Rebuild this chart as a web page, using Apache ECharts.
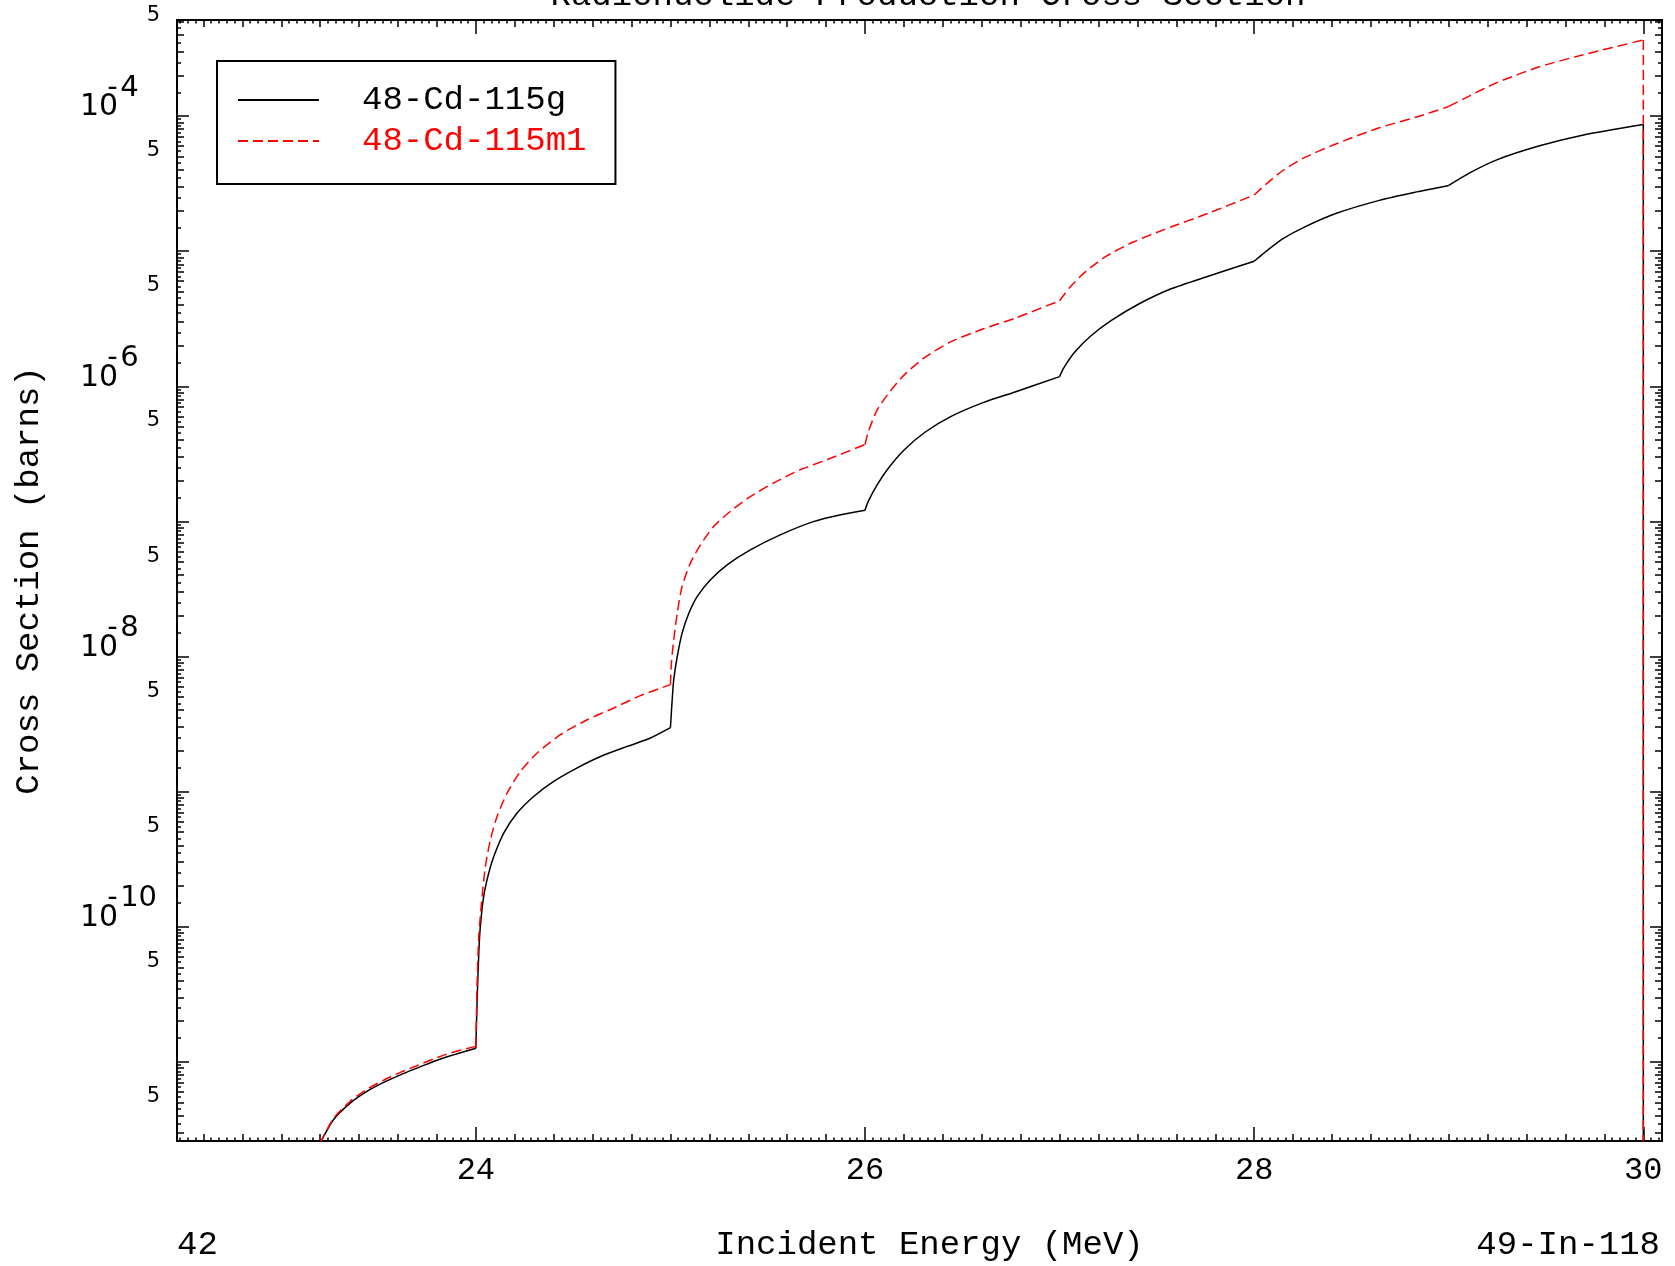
<!DOCTYPE html>
<html>
<head>
<meta charset="utf-8">
<script src="https://cdn.jsdelivr.net/npm/echarts@6/dist/echarts.min.js"></script>
<style>
html,body{margin:0;padding:0;background:#fff;}
#chart{width:1675px;height:1266px;}
</style>
</head>
<body>
<div id="chart"></div>
<script>
// ---- data ----
const seriesNames = ['48-Cd-115g', '48-Cd-115m1'];

const energyG = [23.20, 23.268, 23.354, 23.44, 23.526, 23.612, 23.697, 23.783, 23.869, 24.0,
  24.006, 24.015, 24.023, 24.04, 24.066, 24.092, 24.143, 24.212, 24.297, 24.40, 24.521, 24.641, 24.778, 24.897, 25.0,
  25.009, 25.017, 25.035, 25.06, 25.095, 25.138, 25.207, 25.293, 25.413, 25.567, 25.738, 25.876, 26.0,
  26.016, 26.06, 26.115, 26.198, 26.308, 26.445, 26.61, 26.775, 27.0,
  27.02, 27.077, 27.16, 27.27, 27.407, 27.57, 27.764, 28.0,
  28.066, 28.148, 28.258, 28.423, 28.643, 28.835, 29.0,
  29.11, 29.247, 29.467, 29.687, 30.0, 30.0];
const sigmaG = [2.5e-12, 3.72e-12, 4.94e-12, 6.03e-12, 7.03e-12, 8.0e-12, 8.97e-12, 1.005e-11, 1.107e-11, 1.26e-11,
  2.72e-11, 6.38e-11, 1.005e-10, 1.67e-10, 2.49e-10, 3.31e-10, 4.93e-10, 6.93e-10, 9.2e-10, 1.19e-9, 1.5e-9, 1.82e-9, 2.16e-9, 2.49e-9, 2.97e-9,
  4.8e-9, 6.75e-9, 1.0e-8, 1.49e-8, 2.1e-8, 2.79e-8, 3.71e-8, 4.79e-8, 6.18e-8, 7.98e-8, 1.0e-7, 1.12e-7, 1.21e-7,
  1.4e-7, 1.84e-7, 2.42e-7, 3.35e-7, 4.57e-7, 6.01e-7, 7.6e-7, 9.12e-7, 1.18e-6,
  1.36e-6, 1.79e-6, 2.36e-6, 3.1e-6, 4.07e-6, 5.25e-6, 6.53e-6, 8.43e-6,
  1.01e-5, 1.24e-5, 1.51e-5, 1.91e-5, 2.38e-5, 2.75e-5, 3.07e-5,
  3.82e-5, 4.75e-5, 6.03e-5, 7.23e-5, 8.67e-5, 1e-20];

const energyM = [23.20, 23.268, 23.354, 23.44, 23.526, 23.612, 23.697, 23.783, 23.869, 24.0,
  24.006, 24.015, 24.032, 24.049, 24.075, 24.109, 24.161, 24.229, 24.315, 24.435, 24.572, 24.709, 24.846, 25.0,
  25.005, 25.017, 25.035, 25.06, 25.103, 25.155, 25.223, 25.309, 25.412, 25.532, 25.669, 25.807, 26.0,
  26.016, 26.06, 26.115, 26.198, 26.308, 26.445, 26.61, 26.775, 27.0,
  27.05, 27.132, 27.242, 27.379, 27.544, 27.764, 28.0,
  28.066, 28.148, 28.258, 28.423, 28.643, 28.835, 29.0,
  29.11, 29.247, 29.467, 29.687, 30.0, 30.0];
const sigmaM = [2.5e-12, 3.8e-12, 5.1e-12, 6.25e-12, 7.3e-12, 8.35e-12, 9.35e-12, 1.05e-11, 1.16e-11, 1.3e-11,
  3.61e-11, 8.47e-11, 1.67e-10, 2.79e-10, 4.41e-10, 6.55e-10, 9.77e-10, 1.41e-9, 1.93e-9, 2.64e-9, 3.4e-9, 4.16e-9, 5.13e-9, 6.19e-9,
  8.95e-9, 1.33e-8, 2.1e-8, 3.31e-8, 4.93e-8, 6.73e-8, 9.2e-8, 1.19e-7, 1.53e-7, 1.93e-7, 2.42e-7, 2.87e-7, 3.71e-7,
  4.57e-7, 6.58e-7, 8.65e-7, 1.2e-6, 1.64e-6, 2.15e-6, 2.67e-6, 3.21e-6, 4.3e-6,
  5.35e-6, 7.03e-6, 9.23e-6, 1.17e-5, 1.46e-5, 1.91e-5, 2.61e-5,
  3.18e-5, 3.96e-5, 4.93e-5, 6.25e-5, 8.2e-5, 9.86e-5, 1.18e-4,
  1.42e-4, 1.77e-4, 2.32e-4, 2.84e-4, 3.66e-4, 1e-20];

const xTickLabels = [24, 26, 28, 30];
const yDecadeLabels = [1e-10, 1e-8, 1e-6, 1e-4];
const yDecadeTicks = [1e-11, 1e-10, 1e-9, 1e-8, 1e-7, 1e-6, 1e-5, 1e-4];
const yFiveLabels = [5e-12, 5e-11, 5e-10, 5e-9, 5e-8, 5e-7, 5e-6, 5e-5, 5e-4];
const titleText = 'Radionuclide Production Cross Section';
const xTitle = 'Incident Energy (MeV)';
const yTitle = 'Cross Section (barns)';
const cornerLeft = '42';
const cornerRight = '49-In-118';

const X_MIN = 22.464, X_MAX = 30.096;
const Y_MIN = 2.59e-12, Y_MAX = 5.15e-4;

// ---- tick position lists (axis decoration) ----
const xMediumTicks = [], xSmallTicks = [];
for (let k = Math.ceil(X_MIN * 25); k <= Math.floor(X_MAX * 25); k++) {
  if (k % 50 === 0) continue;
  if (k % 5 === 0) xMediumTicks.push(k / 25); else xSmallTicks.push(k / 25);
}
const yMediumTicks = [], ySmallTicks = [];
for (let n = -12; n <= -4; n++) {
  for (let h = 3; h <= 19; h++) {
    const v = (h / 2) * Math.pow(10, n);
    if (v <= Y_MIN || v >= Y_MAX) continue;
    if (h % 2 === 0) yMediumTicks.push(v); else ySmallTicks.push(v);
  }
}

const MONO = 'Liberation Mono';
const SANS = 'DejaVu Sans';

function xAxisDef(pos, ticks, len, label) {
  return {
    type: 'value', position: pos, min: X_MIN, max: X_MAX, gridIndex: 0,
    axisLine: { show: true, onZero: false, lineStyle: { color: '#000', width: 2 } },
    axisTick: { show: true, inside: true, length: len, customValues: ticks, lineStyle: { color: '#000', width: 1.5 } },
    axisLabel: label || { show: false },
    splitLine: { show: false }
  };
}
function yAxisDef(pos, ticks, len, label) {
  return {
    type: 'log', logBase: 10, position: pos, min: Y_MIN, max: Y_MAX, gridIndex: 0,
    axisLine: { show: true, onZero: false, lineStyle: { color: '#000', width: 2 } },
    axisTick: { show: true, inside: true, length: len, customValues: ticks, lineStyle: { color: '#000', width: 1.5 } },
    axisLabel: label || { show: false },
    splitLine: { show: false },
    minorTick: { show: false }
  };
}

const xMain = xAxisDef('bottom', xTickLabels, 14, {
  show: true, customValues: xTickLabels, margin: 14,
  fontFamily: MONO, fontSize: 32, color: '#000',
  formatter: v => String(v)
});
xMain.name = xTitle;
xMain.nameLocation = 'middle';
xMain.nameGap = 104;
xMain.nameTextStyle = { fontFamily: MONO, fontSize: 34, color: '#000', verticalAlign: 'middle', padding: [0, 0, 0, 20] };

const yMain = yAxisDef('left', yDecadeTicks, 12, {
  show: true, customValues: yDecadeLabels, margin: 97, align: 'left', verticalAlign: 'middle',
  padding: [0, 0, 16, 0],
  formatter: v => '{b|10}{m|-}{s|' + (-Math.round(Math.log10(v))) + '}',
  rich: {
    b: { fontFamily: SANS, fontSize: 30, color: '#000', verticalAlign: 'bottom', lineHeight: 29 },
    m: { fontFamily: SANS, fontSize: 29, color: '#000', verticalAlign: 'bottom', lineHeight: 29, padding: [0, 0, 20, -11], width: 13 },
    s: { fontFamily: SANS, fontSize: 29, color: '#000', verticalAlign: 'bottom', lineHeight: 29, padding: [0, 0, 20, 0] }
  }
});
yMain.name = yTitle;
yMain.nameLocation = 'middle';
yMain.nameGap = 148;
yMain.nameRotate = 90;
yMain.nameTextStyle = { fontFamily: MONO, fontSize: 34, color: '#000', verticalAlign: 'middle' };

// split a curve at integer-energy knots so each piece is smoothed on its own
function pieces(E, S) {
  const out = [];
  let cur = [];
  for (let i = 0; i < E.length; i++) {
    cur.push([E[i], S[i]]);
    if (i > 0 && Number.isInteger(E[i])) {
      if (cur.length > 1) out.push(cur);
      cur = [[E[i], S[i]]];
    }
  }
  if (cur.length > 1) out.push(cur);
  return out;
}

const series = [];
pieces(energyG, sigmaG).forEach(p => series.push({
  name: seriesNames[0], type: 'line', xAxisIndex: 0, yAxisIndex: 0, data: p,
  symbol: 'none', showSymbol: false, clip: true, smooth: 0.25,
  lineStyle: { color: '#000', width: 1.5 }, itemStyle: { color: '#000' }, z: 2
}));
pieces(energyM, sigmaM).forEach(p => series.push({
  name: seriesNames[1], type: 'line', xAxisIndex: 0, yAxisIndex: 0, data: p,
  symbol: 'none', showSymbol: false, clip: true, smooth: 0.25,
  lineStyle: { color: '#ff0000', width: 1.5, type: [10, 5] }, itemStyle: { color: '#ff0000' }, z: 3
}));

const option = {
  animation: false,
  backgroundColor: '#fff',
  grid: { left: 177, top: 20, width: 1485, height: 1121, outerBoundsMode: 'none', containLabel: false },
  legend: {
    orient: 'vertical', left: 217, top: 61,
    padding: [22, 29, 26, 20],
    itemWidth: 81, itemHeight: 30, itemGap: 7,
    borderColor: '#000', borderWidth: 2, borderRadius: 0,
    backgroundColor: '#fff',
    itemStyle: { opacity: 0 },
    textStyle: { fontFamily: MONO, fontSize: 34, color: '#000', padding: [0, 0, 0, 38] },
    data: [
      { name: seriesNames[0], textStyle: { color: '#000' } },
      { name: seriesNames[1], textStyle: { color: '#ff0000' } }
    ]
  },
  xAxis: [
    xMain,
    xAxisDef('bottom', xMediumTicks, 7),
    xAxisDef('bottom', xSmallTicks, 3.5),
    xAxisDef('top', xTickLabels, 14),
    xAxisDef('top', xMediumTicks, 7),
    xAxisDef('top', xSmallTicks, 3.5)
  ],
  yAxis: [
    yMain,
    yAxisDef('left', yMediumTicks, 7, {
      show: true, customValues: yFiveLabels, margin: 17, align: 'right', verticalAlign: 'bottom',
      fontFamily: SANS, fontSize: 21, color: '#000', lineHeight: 12,
      formatter: () => '5'
    }),
    yAxisDef('left', ySmallTicks, 4),
    yAxisDef('right', yDecadeTicks, 12),
    yAxisDef('right', yMediumTicks, 7),
    yAxisDef('right', ySmallTicks, 4)
  ],
  graphic: [
    { type: 'text', x: 928, y: -4, style: { text: titleText, fontFamily: MONO, fontSize: 34, fill: '#000', align: 'center', verticalAlign: 'middle' } },
    { type: 'text', x: 177, y: 1245, style: { text: cornerLeft, fontFamily: MONO, fontSize: 34, fill: '#000', align: 'left', verticalAlign: 'middle' } },
    { type: 'text', x: 1660, y: 1245, style: { text: cornerRight, fontFamily: MONO, fontSize: 34, fill: '#000', align: 'right', verticalAlign: 'middle' } }
  ],
  series: series
};

const chart = echarts.init(document.getElementById('chart'), null, { renderer: 'canvas' });
chart.setOption(option);
</script>
</body>
</html>
